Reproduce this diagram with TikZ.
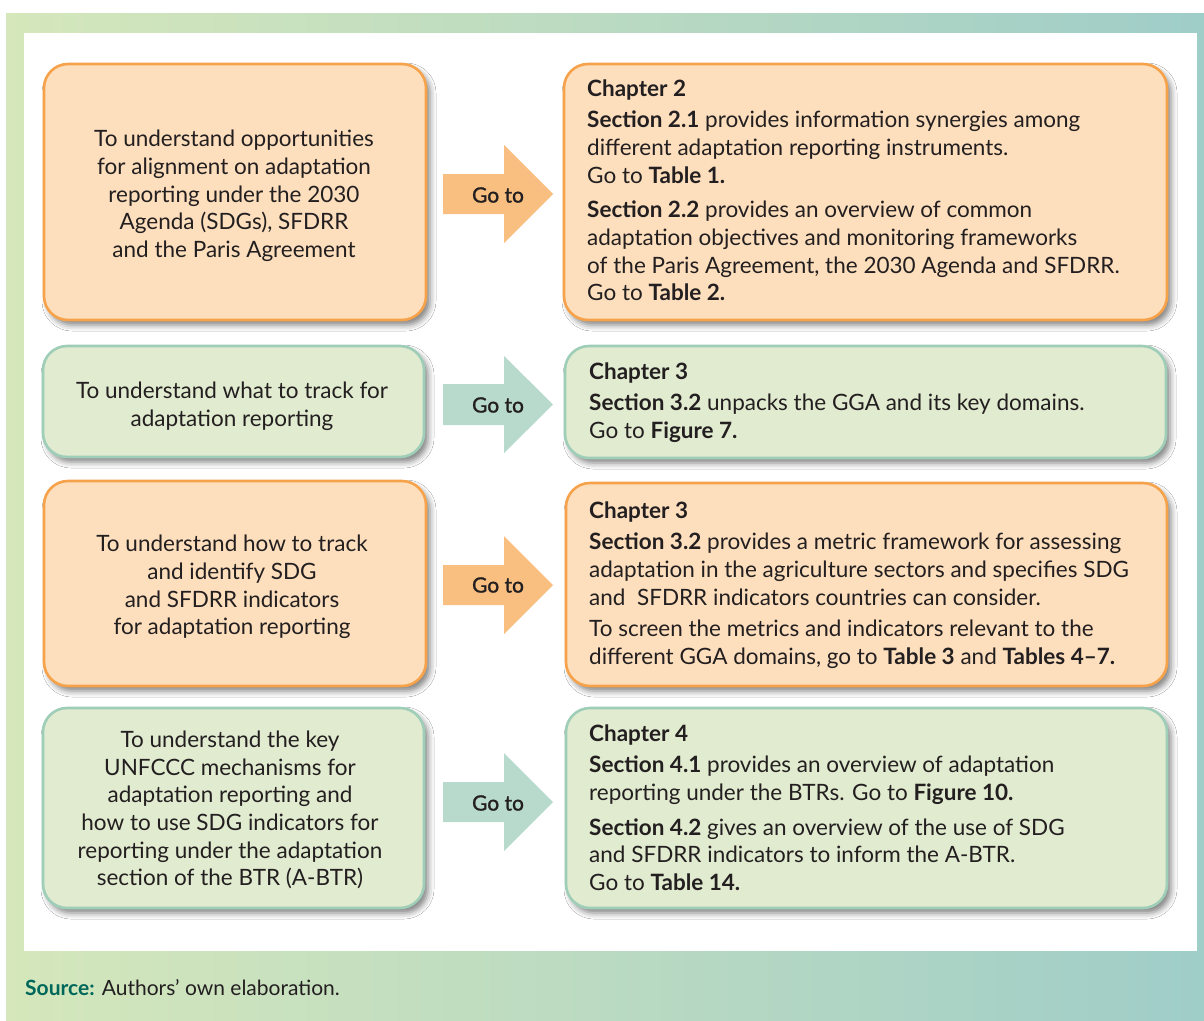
\documentclass[tikz,border=0pt]{standalone}
\usepackage{fontspec}
\setmainfont{Lato}
\newfontfamily\medfont{Lato}[FakeBold=1.2]
\usetikzlibrary{shadows.blur}
\definecolor{ofill}{HTML}{FDDFBD}
\definecolor{odraw}{HTML}{F6A24A}
\definecolor{gfill}{HTML}{E1EBCF}
\definecolor{gdraw}{HTML}{9ECDB8}
\definecolor{oarrow}{HTML}{F9BF80}
\definecolor{garrow}{HTML}{B8DACD}
\definecolor{txt}{HTML}{231F20}
\definecolor{srcteal}{HTML}{00685A}
\definecolor{bgL}{HTML}{D5E7BB}
\definecolor{bgR}{HTML}{9FCDC8}
\begin{document}
\begin{tikzpicture}[x=1pt,y=-1pt,
  box/.style={rounded corners=24pt, line width=2.6pt, inner sep=0pt,
    blur shadow={shadow xshift=4pt, shadow yshift=-5pt, shadow blur radius=6pt, shadow opacity=50}},
  obox/.style={box, fill=ofill, draw=odraw},
  gbox/.style={box, fill=gfill, draw=gdraw},
  lefttext/.style={align=center, text=txt, inner sep=0pt, font=\fontsize{22.5}{27.7}\selectfont},
  righttext/.style={align=left, text=txt, inner sep=0pt, anchor=north west, font=\fontsize{22.5}{27.7}\selectfont},
  gotext/.style={text=txt, inner sep=0pt, font=\medfont\fontsize{21}{24}\selectfont},
  oarr/.style={fill=oarrow},
  garr/.style={fill=garrow}
]
\useasboundingbox (0,0) rectangle (1204,1020);
\fill[white] (0,0) rectangle (1204,1020);
\shade[left color=bgL, right color=bgR] (6,13) rectangle (1204,1020);
\fill[white] (24,33) rectangle (1197,951);

% boxes
\node[obox, minimum width=382pt, minimum height=256pt] (l1) at (235,192) {};
\node[obox, minimum width=603pt, minimum height=256pt] (r1) at (865.5,192) {};
\node[gbox, minimum width=381pt, minimum height=111pt] (l2) at (233.5,401.5) {};
\node[gbox, minimum width=601pt, minimum height=112pt] (r2) at (865.5,402) {};
\node[obox, minimum width=382pt, minimum height=205pt] (l3) at (235,583.5) {};
\node[obox, minimum width=601pt, minimum height=203pt] (r3) at (866.5,584.5) {};
\node[gbox, minimum width=381pt, minimum height=200pt] (l4) at (233.5,808) {};
\node[gbox, minimum width=601pt, minimum height=200pt] (r4) at (866.5,808) {};

% arrows
\fill[oarr] (443,174) -- (504,174) -- (504,145) -- (553,194) -- (504,243) -- (504,214) -- (443,214) -- cycle;
\fill[garr] (443,384) -- (504,384) -- (504,356) -- (553,404.5) -- (504,453) -- (504,425) -- (443,425) -- cycle;
\fill[oarr] (443,565) -- (504,565) -- (504,536) -- (553,585) -- (504,634) -- (504,605) -- (443,605) -- cycle;
\fill[garr] (443,782) -- (504,782) -- (504,753) -- (553,802) -- (504,851) -- (504,822) -- (443,822) -- cycle;
\node[gotext] (go1) at (498,195) {Go to};
\node[gotext] (go2) at (498,405) {Go to};
\node[gotext] (go3) at (498,585) {Go to};
\node[gotext] (go4) at (498,803) {Go to};

% left texts
\node[lefttext] (lt1) at (234,196) {To understand opportunities\\for alignment on adaptation\\reporting under the 2030\\Agenda (SDGs), SFDRR\\and the Paris Agreement};
\node[lefttext] (lt2) at (232,406) {To understand what to track for\\adaptation reporting};
\node[lefttext] (lt3) at (232,587) {To understand how to track\\and identify SDG\\and SFDRR indicators\\for adaptation reporting};
\node[lefttext] (lt4) at (230,810) {To understand the key\\UNFCCC mechanisms for\\adaptation reporting and\\how to use SDG indicators for\\reporting under the adaptation\\section of the BTR (A-BTR)};

% right texts
\node[righttext] (rt1) at (587,80) {\textbf{Chapter 2}\\[3pt]
\textbf{Section 2.1} provides information synergies among\\
different adaptation reporting instruments.\\
Go to \textbf{Table 1.}\\[7pt]
\textbf{Section 2.2} provides an overview of common\\
adaptation objectives and monitoring frameworks\\
of the Paris Agreement, the 2030 Agenda and SFDRR.\\
Go to \textbf{Table 2.}};
\node[righttext] (rt2) at (589,363) {\textbf{Chapter 3}\\[3pt]
\textbf{Section 3.2} unpacks the GGA and its key domains.\\
Go to \textbf{Figure 7.}};
\node[righttext] (rt3) at (589,502) {\textbf{Chapter 3}\\[3pt]
\textbf{Section 3.2} provides a metric framework for assessing\\
adaptation in the agriculture sectors and specifies SDG\\
and\ \ SFDRR indicators countries can consider.\\[4pt]
To screen the metrics and indicators relevant to the\\
different GGA domains, go to \textbf{Table 3} and \textbf{Tables 4–7.}};
\node[righttext] (rt4) at (589,725) {\textbf{Chapter 4}\\[3pt]
\textbf{Section 4.1} provides an overview of adaptation\\
reporting under the BTRs. Go to \textbf{Figure 10.}\\[7pt]
\textbf{Section 4.2} gives an overview of the use of SDG\\
and SFDRR indicators to inform the A-BTR.\\
Go to \textbf{Table 14.}};

% source
\node[anchor=base west, inner sep=0pt, text=txt, font=\fontsize{21}{24}\selectfont] (src) at (25,995) {\textcolor{srcteal}{\textbf{Source:}} Authors’ own elaboration.};
\end{tikzpicture}
\end{document}
